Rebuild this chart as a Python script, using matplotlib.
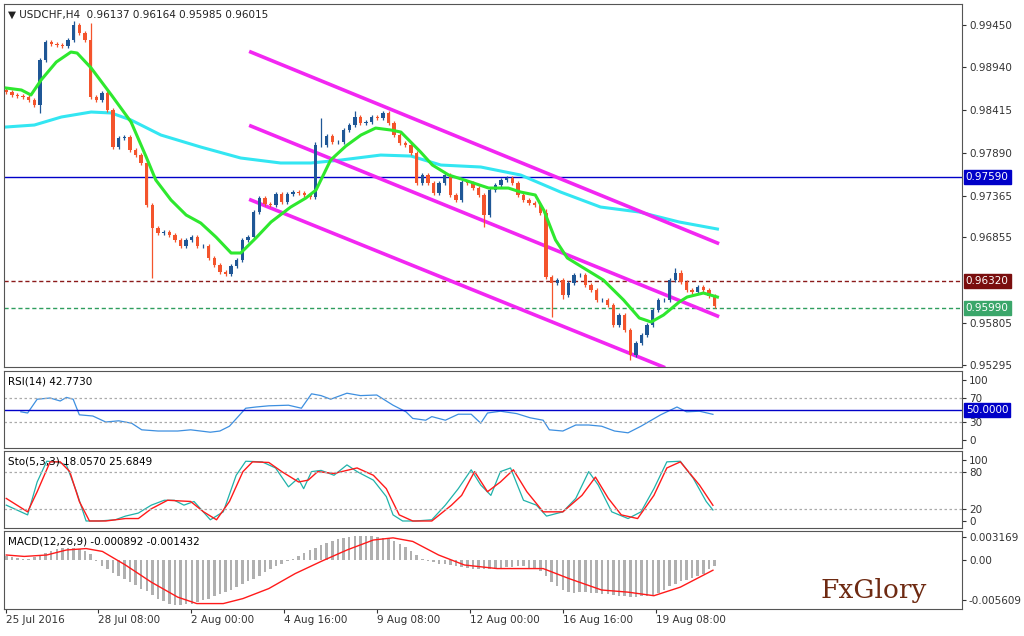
import numpy as np
import matplotlib.pyplot as plt
from matplotlib.transforms import blended_transform_factory

# ---- data ----
first_open = 0.98660
closes = [0.98631, 0.98595, 0.98583, 0.98570, 0.98534, 0.98472, 0.99022, 0.99242, 0.99218, 0.99206,
          0.99193, 0.99267, 0.99450, 0.99352, 0.99267, 0.98570, 0.98534, 0.98619, 0.98411, 0.97959,
          0.98069, 0.98081, 0.97923, 0.97861, 0.97764, 0.97250, 0.96969, 0.96908, 0.96920, 0.96884,
          0.96823, 0.96749, 0.96823, 0.96859, 0.96749, 0.96749, 0.96603, 0.96517, 0.96432, 0.96407,
          0.96505, 0.96578, 0.96823, 0.96859, 0.97165, 0.97336, 0.97263, 0.97250, 0.97385, 0.97287,
          0.97385, 0.97409, 0.97397, 0.97373, 0.97348, 0.97984, 0.97984, 0.98094, 0.98020, 0.98020,
          0.98167, 0.98228, 0.98326, 0.98252, 0.98265, 0.98326, 0.98314, 0.98375, 0.98252, 0.98106,
          0.98008, 0.97984, 0.97886, 0.97519, 0.97617, 0.97519, 0.97397, 0.97519, 0.97617, 0.97373,
          0.97312, 0.97531, 0.97519, 0.97458, 0.97373, 0.97128, 0.97434, 0.97495, 0.97556, 0.97580,
          0.97519, 0.97373, 0.97312, 0.97275, 0.97250, 0.97153, 0.96371, 0.96297, 0.96334, 0.96151,
          0.96297, 0.96395, 0.96395, 0.96273, 0.96212, 0.96090, 0.96090, 0.96028, 0.95784, 0.95906,
          0.95723, 0.95417, 0.95564, 0.95662, 0.95784, 0.95967, 0.96090, 0.96090, 0.96334, 0.96419,
          0.96309, 0.96212, 0.96187, 0.96248, 0.96212, 0.96137, 0.96015]
high_override = {12: 0.99500, 15: 0.99480, 55: 0.98020, 56: 0.98314, 119: 0.96480, 120: 0.96460,
                 96: 0.97200, 62: 0.98400}
low_override = {26: 0.96358, 97: 0.95882, 111: 0.95356, 85: 0.96980, 6: 0.98380, 99: 0.96100}

ma_fast_x = [0, 2.7, 4.4, 6.2, 8.9, 11.5, 12.6, 15.1, 18.7, 22.2, 24.9, 26.6, 29.3, 32, 34.6, 37.3,
             40, 41.7, 44.4, 47.1, 50.6, 53.3, 55.1, 57.7, 60.4, 63.1, 65.7, 68.4, 70.2, 73.7, 75.8,
             78.7, 81.5, 85.8, 89.3, 91.5, 94.1, 95.6, 97.7, 99.8, 102.7, 106.2, 109.8, 112.6, 114.7,
             116.9, 119.7, 121.1, 124, 126.5]
ma_fast = [0.98680, 0.98656, 0.98595, 0.98778, 0.98998, 0.99120, 0.99108, 0.98925, 0.98595, 0.98265,
           0.97837, 0.97556, 0.97312, 0.97128, 0.97030, 0.96859, 0.96664, 0.96664, 0.96847, 0.97043,
           0.97226, 0.97336, 0.97434, 0.97800, 0.97971, 0.98106, 0.98191, 0.98167, 0.98142, 0.97898,
           0.97739, 0.97617, 0.97556, 0.97458, 0.97458, 0.97409, 0.97373, 0.97189, 0.96823, 0.96603,
           0.96481, 0.96334, 0.96090, 0.95870, 0.95821, 0.95906, 0.96065, 0.96126, 0.96175, 0.96126]
ma_slow_x = [0, 5, 9.8, 15.1, 18.7, 22.2, 27.5, 34.6, 41.7, 48.8, 54.2, 59.5, 66.6, 72, 77.3, 84.4,
             91.5, 98.6, 105.7, 112.6, 119.7, 126.5]
ma_slow = [0.98204, 0.98228, 0.98326, 0.98387, 0.98375, 0.98289, 0.98106, 0.97959, 0.97825, 0.97764,
           0.97764, 0.97800, 0.97861, 0.97849, 0.97739, 0.97715, 0.97617, 0.97409, 0.97226, 0.97165,
           0.97043, 0.96957]

channel_upper = [(43.5, 0.99120), (126.5, 0.96786)]
channel_mid = [(43.5, 0.98216), (126.5, 0.95894)]
channel_low = [(43.5, 0.97312), (116.9, 0.95271)]

level_blue = 0.97590
level_red = 0.96320
level_green = 0.95990
price_ticks = [0.99450, 0.98940, 0.98415, 0.97890, 0.97365, 0.96855, 0.95805, 0.95295]

rsi_x = [2.6, 3.8, 5.5, 7.8, 9.6, 10.7, 11.9, 13.0, 15.4, 17.7, 20.0, 22.3, 24.1, 27.0, 30.5, 32.8,
         36.3, 38.0, 39.7, 42.6, 44.4, 46.7, 50.2, 52.5, 54.3, 56.0, 57.7, 60.6, 63.0, 65.9, 68.8,
         71.1, 72.3, 74.6, 75.7, 78.1, 80.4, 82.7, 84.4, 85.6, 87.9, 90.8, 93.2, 95.5, 96.6, 99.0,
         101.3, 103.6, 105.9, 108.2, 110.6, 112.9, 116.4, 119.3, 121.0, 123.3, 125.7]
rsi = [47, 45, 68, 70, 65, 71, 68, 42, 40, 30, 32, 28, 17, 15, 15, 17, 13, 15, 23, 53, 55, 57, 58,
       53, 77, 74, 68, 78, 74, 75, 58, 47, 36, 33, 39, 33, 43, 43, 28, 45, 48, 44, 37, 33, 17, 15,
       25, 25, 23, 15, 12, 23, 42, 55, 47, 48, 42.8]

sto_k_x = [0, 3.8, 5.5, 7.2, 9.0, 10.7, 12.5, 14.2, 16.5, 19.4, 21.2, 23.5, 25.8, 28.1, 29.9, 31.6,
           33.4, 36.3, 38.6, 40.9, 42.6, 45.5, 47.9, 50.2, 51.9, 52.9, 54.3, 56.0, 58.3, 60.6, 62.4,
           65.3, 67.6, 68.8, 70.5, 72.8, 75.7, 78.1, 80.4, 82.7, 84.4, 86.2, 87.9, 89.7, 92.0, 94.3,
           96.1, 99.0, 101.3, 103.6, 105.3, 107.7, 110.6, 112.9, 115.2, 117.5, 119.9, 122.2, 124.5, 125.7]
sto_k = [26, 10, 64, 98, 97, 92, 48, 0, 0, 2, 8, 13, 26, 34, 34, 26, 32, 2, 15, 75, 98, 97, 87, 56,
         70, 53, 81, 83, 75, 92, 81, 67, 40, 10, 0, 0, 2, 26, 53, 84, 59, 42, 81, 87, 34, 26, 8, 15,
         37, 81, 59, 15, 4, 15, 53, 97, 98, 70, 32, 18.06]
sto_d_x = [0, 3.8, 5.5, 7.8, 9.6, 11.3, 13.0, 14.8, 17.7, 21.2, 23.5, 25.8, 28.7, 32.8, 35.1, 37.4,
           39.7, 42.1, 43.8, 46.7, 49.0, 52.0, 53.7, 55.4, 58.3, 62.4, 65.3, 67.6, 69.9, 72.3, 75.7,
           79.2, 81.0, 83.3, 85.6, 87.9, 90.2, 92.6, 95.5, 99.0, 102.4, 104.8, 107.1, 109.4, 112.3,
           115.2, 117.5, 119.9, 123.3, 125.7]
sto_d = [37, 15, 48, 97, 97, 81, 32, 0, 0, 4, 4, 20, 34, 32, 15, 2, 32, 81, 97, 96, 81, 64, 67, 81,
         78, 87, 75, 53, 10, 0, 0, 26, 42, 81, 48, 64, 84, 48, 15, 15, 42, 72, 37, 10, 4, 42, 87, 97,
         59, 25.7]

macd_hist = np.array([5, 4, 3, 2, 2, 4, 7, 10, 13, 16, 17, 17, 17, 16, 13, 8, -2, -8, -13, -18,
                      -22, -26, -31, -35, -40, -44, -49, -54, -58, -61, -63, -63, -62, -61, -59,
                      -56, -54, -51, -48, -45, -42, -38, -34, -30, -26, -22, -17, -13, -9, -5,
                      -2, 2, 6, 10, 14, 17, 21, 24, 27, 29, 31, 32, 33, 33, 33, 33, 32, 31, 29, 26,
                      22, 18, 12, 7, 2, -1, -3, -5, -6, -7, -9, -10, -11, -12, -12, -12, -12, -12,
                      -11, -10, -10, -9, -9, -11, -13, -15, -22, -31, -37, -42, -45, -46, -45, -45,
                      -46, -46, -47, -48, -49, -50, -51, -52, -52, -51, -50, -50, -46, -42, -36,
                      -33, -30, -28, -25, -22, -19, -12, -9]) * 1e-4
signal_x = [0, 3.2, 7.2, 10.7, 14.2, 17.1, 21.2, 25.8, 30.5, 33.9, 38.6, 42.1, 46.7, 51.4, 56, 60.6,
            65.3, 68.8, 72.3, 76.9, 81.5, 87.3, 95.5, 100.1, 105.9, 110.6, 115.2, 119.9, 125.7]
signal = np.array([7, 5, 7, 14, 16, 12, -7, -31, -52, -61, -61, -54, -40, -19, -2, 14, 28, 31, 26,
                   7, -7, -12, -12, -26, -42, -45, -50, -38, -14.3]) * 1e-4

date_pos = [0, 16.3, 32.9, 49.4, 65.9, 82.4, 99.1, 115.5]
date_labels = ['25 Jul 2016', '28 Jul 08:00', '2 Aug 00:00', '4 Aug 16:00', '9 Aug 08:00',
               '12 Aug 00:00', '16 Aug 16:00', '19 Aug 08:00']

BULL = '#1f5796'
BEAR = '#f4542c'
FS = 7.5

fig = plt.figure(figsize=(10.24, 6.36), dpi=100)
W, H = 1024, 636


def panel(top, bottom):
    return fig.add_axes([4 / W, 1 - bottom / H, 958 / W, (bottom - top) / H])


ax = panel(4, 367)
ax_rsi = panel(371, 448)
ax_sto = panel(451, 528)
ax_macd = panel(531, 609)
XL = (-0.4, 170)

for a in (ax, ax_rsi, ax_sto, ax_macd):
    a.set_xlim(*XL)
    a.yaxis.tick_right()
    a.tick_params(axis='y', labelsize=FS, length=3, pad=2, colors='#333333')
    a.tick_params(axis='x', bottom=False, labelbottom=False)
    for s in a.spines.values():
        s.set_color('#555555')
        s.set_linewidth(0.8)

# ---- candles ----
closes = np.array(closes)
opens = np.concatenate([[first_open], closes[:-1]])
idx = np.arange(len(closes))
highs = np.maximum(opens, closes) + 0.00022
lows = np.minimum(opens, closes) - 0.00022
for k, v in high_override.items():
    highs[k] = v
for k, v in low_override.items():
    lows[k] = v
cols = np.where(closes >= opens, BULL, BEAR)
ax.vlines(idx, lows, highs, colors=cols, linewidth=0.9, zorder=3)
body = np.maximum(np.abs(closes - opens), 0.00005)
ax.bar(idx, body, bottom=np.minimum(opens, closes), width=0.6, color=cols, zorder=4)

ax.plot(ma_slow_x, ma_slow, color='#33e6f2', lw=2.2, zorder=2)
ax.plot(ma_fast_x, ma_fast, color='#2ee82e', lw=2.2, zorder=5)
for ch in (channel_upper, channel_mid, channel_low):
    ax.plot([p[0] for p in ch], [p[1] for p in ch], color='#f227f2', lw=2.6, zorder=2)

ax.axhline(level_blue, color='#0000c8', lw=1.0, zorder=1)
ax.axhline(level_red, color='#8b1a1a', lw=1.0, ls=(0, (3, 2)), zorder=1)
ax.axhline(level_green, color='#2e9e5e', lw=1.0, ls=(0, (3, 2)), zorder=1)

ax.set_ylim(0.95271, 0.99707)
ax.set_yticks(price_ticks)
ax.set_yticklabels(['%.5f' % t for t in price_ticks])

trans = blended_transform_factory(ax.transAxes, ax.transData)
for val, bg in ((level_blue, '#0000c8'), (level_red, '#7a0e0e'), (level_green, '#3aa66a')):
    ax.text(1.004, val, '%.5f' % val, transform=trans, fontsize=FS, color='white', va='center',
            ha='left', bbox=dict(boxstyle='square,pad=0.2', fc=bg, ec=bg), clip_on=False)

ax.text(0.004, 0.985, '\u25bc USDCHF,H4  0.96137 0.96164 0.95985 0.96015', transform=ax.transAxes,
        fontsize=FS, va='top', ha='left', color='#222222')

# ---- RSI ----
ax_rsi.plot(rsi_x, rsi, color='#3d8fe0', lw=0.9)
ax_rsi.axhline(50, color='#0000c8', lw=1.0)
for lv in (70, 30):
    ax_rsi.axhline(lv, color='#aaaaaa', lw=0.9, ls=(0, (2, 2)))
ax_rsi.set_ylim(-13.3, 115)
ax_rsi.set_yticks([0, 30, 70, 100])
t2 = blended_transform_factory(ax_rsi.transAxes, ax_rsi.transData)
ax_rsi.text(1.004, 50, '50.0000', transform=t2, fontsize=FS, color='white', va='center', ha='left',
            bbox=dict(boxstyle='square,pad=0.2', fc='#0000c8', ec='#0000c8'), clip_on=False)
ax_rsi.text(0.004, 0.93, 'RSI(14) 42.7730', transform=ax_rsi.transAxes, fontsize=FS, va='top')

# ---- Stochastic ----
ax_sto.plot(sto_k_x, sto_k, color='#20b2aa', lw=0.9)
ax_sto.plot(sto_d_x, sto_d, color='#ff1a1a', lw=1.0)
for lv in (80, 20):
    ax_sto.axhline(lv, color='#aaaaaa', lw=0.9, ls=(0, (2, 2)))
ax_sto.set_ylim(-11.5, 114.8)
ax_sto.set_yticks([0, 20, 80, 100])
ax_sto.text(0.004, 0.93, 'Sto(5,3,3) 18.0570 25.6849', transform=ax_sto.transAxes, fontsize=FS,
            va='top')

# ---- MACD ----
ax_macd.bar(np.arange(len(macd_hist)), macd_hist, width=0.45, color='#b0b0b0')
ax_macd.plot(signal_x, signal, color='#ff1a1a', lw=1.0)
ax_macd.set_ylim(-0.00686, 0.00406)
ax_macd.set_yticks([0.003169, 0.0, -0.005609])
ax_macd.set_yticklabels(['0.003169', '0.00', '-0.005609'])
ax_macd.text(0.004, 0.93, 'MACD(12,26,9) -0.000892 -0.001432', transform=ax_macd.transAxes,
             fontsize=FS, va='top')
ax_macd.text(0.852, 0.08, 'FxGlory', transform=ax_macd.transAxes, fontsize=19, color='#6e2a12',
             family='DejaVu Serif', va='bottom', ha='left')

ax_macd.set_xticks(date_pos)
ax_macd.set_xticklabels(date_labels)
ax_macd.tick_params(axis='x', bottom=True, labelbottom=True, labelsize=FS, length=3, pad=1,
                    colors='#333333')
for lab in ax_macd.get_xticklabels():
    lab.set_horizontalalignment('left')

fig.savefig('out.png', dpi=100)
